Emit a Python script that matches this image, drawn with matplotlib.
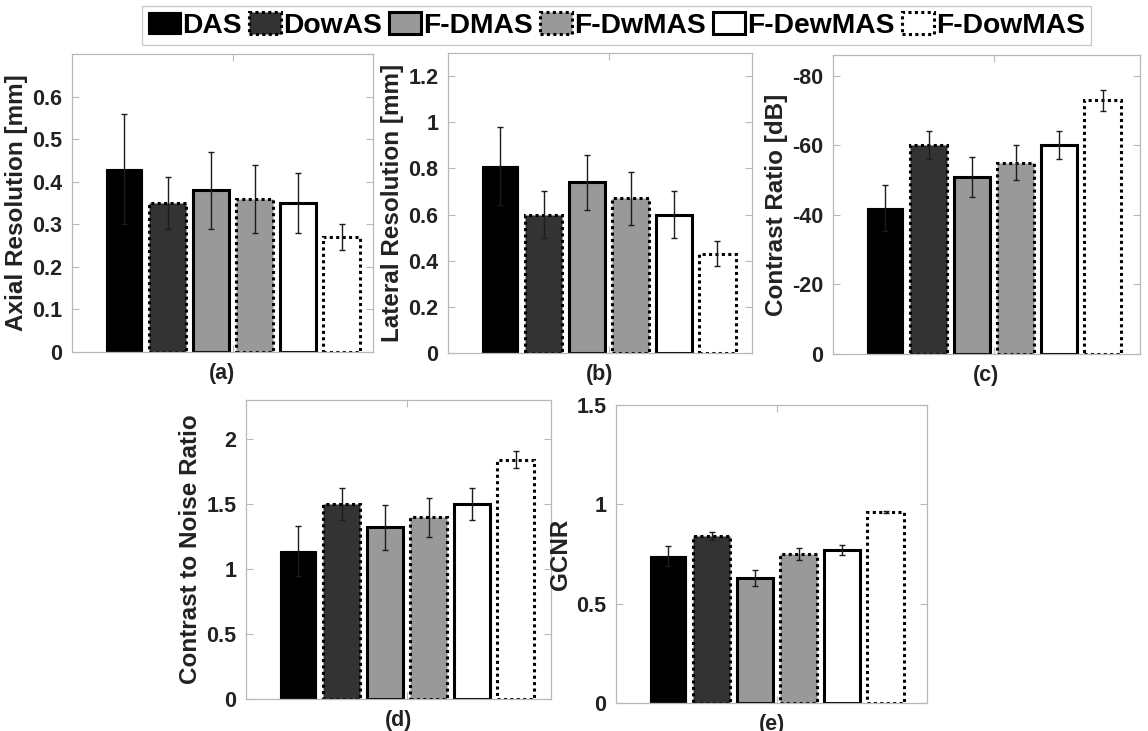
import matplotlib
matplotlib.use("Agg")
import matplotlib.pyplot as plt
from matplotlib.patches import Patch
from matplotlib.ticker import FuncFormatter

plt.rcParams['font.family'] = ['Liberation Sans', 'DejaVu Sans']
plt.rcParams['font.weight'] = 'bold'
plt.rcParams['axes.unicode_minus'] = False

methods = ['DAS', 'DowAS', 'F-DMAS', 'F-DwMAS', 'F-DewMAS', 'F-DowMAS']

axial_mean = [0.43, 0.35, 0.38, 0.36, 0.35, 0.27]
axial_std = [0.13, 0.06, 0.09, 0.08, 0.07, 0.03]

lateral_mean = [0.81, 0.60, 0.74, 0.67, 0.60, 0.43]
lateral_std = [0.17, 0.10, 0.12, 0.115, 0.10, 0.055]

cr_mean = [-42, -60, -51, -55, -60, -73]
cr_std = [6.5, 4, 5.7, 5, 4, 3]

cnr_mean = [1.14, 1.50, 1.32, 1.40, 1.50, 1.84]
cnr_std = [0.19, 0.125, 0.17, 0.15, 0.125, 0.065]

gcnr_mean = [0.74, 0.84, 0.63, 0.75, 0.77, 0.96]
gcnr_std = [0.05, 0.02, 0.04, 0.03, 0.025, 0.005]

# bar styling, one entry per method
DOT = (0, (1, 1.1))
fills = ['black', '#333333', '#999999', '#999999', 'white', 'white']
edge_styles = ['-', DOT, '-', DOT, '-', DOT]
edge_widths = [0.8, 2.2, 2.2, 2.2, 2.2, 2.2]

W, H = 1148, 731
fig = plt.figure(figsize=(W / 100, H / 100), dpi=100)

GRID = '#b8b8b8'
BAR_STEP = 43.5   # px between bar centres
FIRST_BAR = 52    # px from left spine to first bar centre


def add_panel(rect_px, means, stds, ylim, yticks, ylabel, tag, reverse=False):
    left, top, right, bottom = rect_px
    ax = fig.add_axes([left / W, 1 - bottom / H, (right - left) / W, (bottom - top) / H])
    x = list(range(len(means)))
    for i in x:
        ax.bar(i, means[i], width=0.85, color=fills[i], edgecolor='black',
               linewidth=edge_widths[i], linestyle=edge_styles[i], zorder=2)
    ax.errorbar(x, means, yerr=stds, fmt='none', ecolor='#1c1c1c',
                elinewidth=1.0, capsize=2, capthick=1.0, zorder=3)

    x0 = -FIRST_BAR / BAR_STEP
    ax.set_xlim(x0, x0 + (right - left) / BAR_STEP)
    ax.set_ylim(*ylim)
    if reverse:
        ax.invert_yaxis()
    ax.set_yticks(yticks)
    ax.yaxis.set_major_formatter(FuncFormatter(lambda v, p: f'{v:g}'))
    ax.set_xticks([2.5])
    ax.set_xticklabels([])
    ax.tick_params(axis='both', direction='in', length=5, width=0.8, color=GRID,
                   labelsize=15.5, labelcolor='#222222', pad=7,
                   right=True, top=True)
    for s in ax.spines.values():
        s.set_color(GRID)
        s.set_linewidth(0.9)
    ax.set_ylabel(ylabel, fontsize=17.5, fontweight='bold', color='#222222', labelpad=3)
    ax.set_xlabel(tag, fontsize=15.5, fontweight='bold', color='#222222', labelpad=1)
    return ax


add_panel((72, 54, 373, 352), axial_mean, axial_std, (0, 0.7),
          [0, 0.1, 0.2, 0.3, 0.4, 0.5, 0.6], 'Axial Resolution [mm]', '(a)')
add_panel((448, 53, 752, 353), lateral_mean, lateral_std, (0, 1.3),
          [0, 0.2, 0.4, 0.6, 0.8, 1.0, 1.2], 'Lateral Resolution [mm]', '(b)')
add_panel((833, 55, 1140, 354), cr_mean, cr_std, (-86, 0),
          [0, -20, -40, -60, -80], 'Contrast Ratio [dB]', '(c)', reverse=True)
add_panel((246, 400, 551, 699), cnr_mean, cnr_std, (0, 2.3),
          [0, 0.5, 1, 1.5, 2], 'Contrast to Noise Ratio', '(d)')
add_panel((616, 405, 927, 703), gcnr_mean, gcnr_std, (0, 1.5),
          [0, 0.5, 1, 1.5], 'GCNR', '(e)')

handles = [Patch(facecolor=fills[i], edgecolor='black', linewidth=edge_widths[i],
                 linestyle=edge_styles[i], label=methods[i]) for i in range(len(methods))]
leg = fig.legend(handles=handles, loc='upper left', bbox_to_anchor=(142 / W, 1 - 6 / H),
                 ncol=6, fontsize=20.3, frameon=True, fancybox=False,
                 handlelength=1.15, handleheight=0.8, handletextpad=0.06,
                 columnspacing=0.25, borderpad=0.22, borderaxespad=0)
leg.get_frame().set_edgecolor(GRID)
leg.get_frame().set_linewidth(0.9)

fig.savefig('out.png', dpi=100)
